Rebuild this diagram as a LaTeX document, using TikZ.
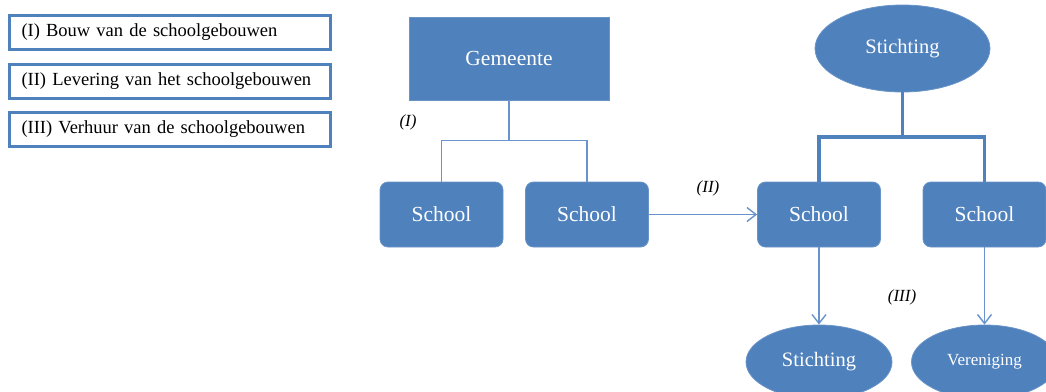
\documentclass[tikz,border=0pt]{standalone}
\usepackage{fontspec}
\setmainfont{Liberation Serif}
\usetikzlibrary{shapes.geometric,arrows.meta}
\definecolor{boxblue}{HTML}{4F81BD}
\definecolor{linkblue}{HTML}{6893CC}
\tikzset{
  legendbox/.style={draw=boxblue, line width=3pt, rectangle, inner xsep=12pt, inner ysep=0pt,
    text width=297pt, minimum height=34pt, align=left, font=\fontsize{18.5}{20}\selectfont},
  orgbox/.style={fill=boxblue, draw=boxblue!85!white, line width=0.8pt, text=white,
    inner sep=0pt, font=\fontsize{21.5}{24}\selectfont},
  schoolbox/.style={orgbox, rectangle, rounded corners=8pt, minimum width=123pt, minimum height=65pt},
  orgellipse/.style={orgbox, ellipse},
  thinlink/.style={draw=linkblue, line width=1.4pt},
  thicklink/.style={draw=boxblue, line width=3.5pt},
  flowarrow/.style={thinlink, -{Straight Barb[length=9pt,width=14pt,line width=1.4pt]}},
  steplabel/.style={font=\fontsize{17}{19}\selectfont\itshape, inner sep=0pt},
}
\begin{document}
\begin{tikzpicture}[x=1pt, y=-1pt]
  \useasboundingbox (0,0) rectangle (1046,391);
  \clip (0,0) rectangle (1046,391);

  % legend
  \node[legendbox] (leg1) at (170,32.5) {(I) Bouw van de schoolgebouwen};
  \node[legendbox] (leg2) at (170,81) {(II) Levering van het schoolgebouwen};
  \node[legendbox] (leg3) at (170,129.5) {(III) Verhuur van de schoolgebouwen};

  % municipality and its schools
  \node[orgbox, rectangle, minimum width=200pt, minimum height=83pt] (gem) at (509,58.5) {Gemeente};
  \node[schoolbox] (s1) at (441.5,214.5) {School};
  \node[schoolbox] (s2) at (587,214.5) {School};
  \coordinate (j1) at (509,140.5);
  \draw[thinlink] (gem.south) -- (j1);
  \draw[thinlink] (s1.north) |- (j1) -| (s2.north);
  \node[steplabel] (l1) at (408,122) {(I)};

  % foundation and its schools
  \node[orgellipse, minimum width=175pt, minimum height=87pt] (st) at (902.5,48.5) {\fontsize{20.5}{23}\selectfont Stichting};
  \node[schoolbox] (s3) at (819,214.5) {School};
  \node[schoolbox] (s4) at (984.5,214.5) {School};
  \coordinate (j2) at (902.5,137);
  \draw[thicklink] (st.south) -- (j2);
  \draw[thicklink] (s3.north) |- (j2) -| (s4.north);

  % transfer
  \draw[flowarrow] (s2.east) -- (s3.west);
  \node[steplabel] (l2) at (708,188) {(II)};

  % letting
  \node[orgellipse, minimum width=146pt, minimum height=74pt] (st2) at (819,362) {\fontsize{20.5}{23}\selectfont Stichting};
  \node[orgellipse, minimum width=146pt, minimum height=74pt] (ver) at (984.5,362) {\fontsize{17}{19}\selectfont Vereniging};
  \draw[flowarrow] (s3.south) -- (st2.north);
  \draw[flowarrow] (s4.south) -- (ver.north);
  \node[steplabel] (l3) at (902,297) {(III)};
\end{tikzpicture}
\end{document}
